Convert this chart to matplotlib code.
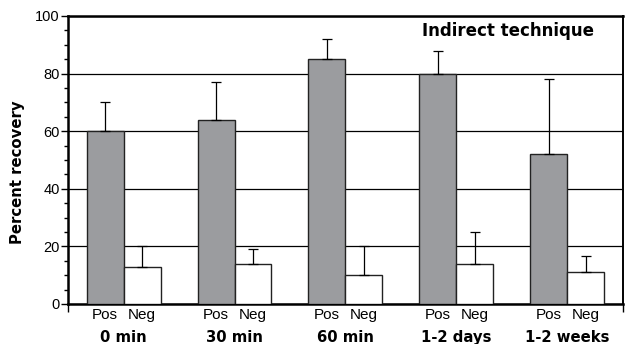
import numpy as np
import matplotlib.pyplot as plt
from matplotlib.ticker import MultipleLocator
from matplotlib.transforms import blended_transform_factory

plt.rcParams['font.family'] = ['Liberation Sans', 'DejaVu Sans']

groups = ['0 min', '30 min', '60 min', '1-2 days', '1-2 weeks']
pos_vals = [60, 64, 85, 80, 52]
pos_err = [10, 13, 7, 8, 26]
neg_vals = [13, 14, 10, 14, 11]
neg_err = [7, 5, 10, 11, 5.5]

x = np.arange(len(groups))
w = 1 / 3

fig = plt.figure(figsize=(6.28, 3.44), dpi=100)
ax = fig.add_axes([0.1083, 0.1163, 0.8837, 0.8372])

ax.set_axisbelow(True)
ax.yaxis.grid(True, which='major', color='black', linewidth=0.9)

err_kw = dict(ecolor='black', elinewidth=0.9, capsize=3.5, capthick=0.9)
ax.bar(x - w / 2, pos_vals, w, color='#9b9c9f', edgecolor='#222222', linewidth=1.0,
       yerr=[np.zeros(len(x)), pos_err], error_kw=err_kw, zorder=3)
ax.bar(x + w / 2, neg_vals, w, color='white', edgecolor='#222222', linewidth=1.0,
       yerr=[np.zeros(len(x)), neg_err], error_kw=err_kw, zorder=3)

ax.set_xlim(-0.5, len(groups) - 0.5)
ax.set_ylim(0, 100)
ax.yaxis.set_major_locator(MultipleLocator(20))
ax.yaxis.set_minor_locator(MultipleLocator(5))
ax.tick_params(axis='y', which='major', length=5, width=1, labelsize=10.5, pad=1)
ax.tick_params(axis='y', which='minor', length=3, width=1)

ticks = np.concatenate([x - w / 2, x + w / 2])
ax.set_xticks(ticks)
ax.set_xticklabels(['Pos'] * len(x) + ['Neg'] * len(x))
ax.set_xticks([-0.5, len(groups) - 0.5], minor=True)
ax.tick_params(axis='x', which='major', length=0, labelsize=11, pad=3)
ax.tick_params(axis='x', which='minor', length=6, width=1)

for s in ['left', 'bottom', 'top']:
    ax.spines[s].set_linewidth(1.8)
ax.spines['right'].set_linewidth(1.4)

# bold labels in the reference are letter-spaced; DejaVu Bold is wide enough
trans = blended_transform_factory(ax.transData, ax.transAxes)
for i, g in enumerate(groups):
    ax.text(x[i], -0.115, g, transform=trans, ha='center', va='center',
            fontsize=10.7, fontweight='bold', family='DejaVu Sans')

ax.set_ylabel('Percent recovery', fontsize=10.7, fontweight='bold', family='DejaVu Sans')
ax.yaxis.set_label_coords(-0.077, 0.458)
ax.text(0.948, 0.978, 'Indirect technique', transform=ax.transAxes, ha='right',
        va='top', fontsize=12, fontweight='bold', family='DejaVu Sans')

fig.savefig('out.png', dpi=100)
